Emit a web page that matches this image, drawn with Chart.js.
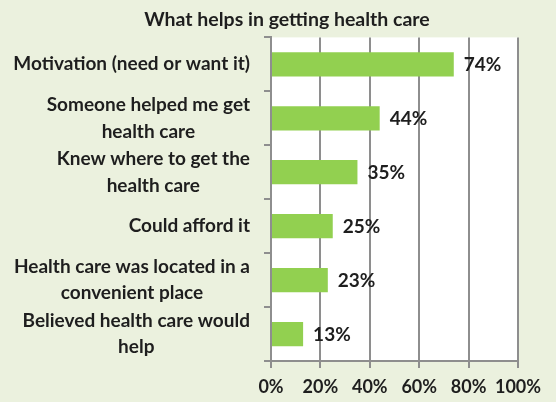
<!DOCTYPE html>
<html>
<head>
<meta charset="utf-8">
<script src="https://cdn.jsdelivr.net/npm/chart.js@4"></script>
<style>
  html, body { margin: 0; padding: 0; background: #ebf1de; }
  #wrap { width: 556px; height: 402px; }
</style>
</head>
<body>
<div id="wrap"><canvas id="chart" width="556" height="402"></canvas></div>
<script>
// Survey answers: what helps in getting health care
const categories = [
  ['Motivation (need or want it)'],
  ['Someone helped me get', 'health care'],
  ['Knew where to get the', 'health care'],
  ['Could afford it'],
  ['Health care was located in a', 'convenient place'],
  ['Believed health care would', 'help']
];
const shares = [74, 44, 35, 25, 23, 13];
const percentTicks = [0, 20, 40, 60, 80, 100];
const chartTitle = 'What helps in getting health care';

const FONT = 'Lato, "Open Sans", sans-serif';
const TEXT = '#1e1e1e';
const GRID = '#8e8e8e';

// Page background plus the white plotting area
const backdrop = {
  id: 'backdrop',
  beforeDraw(chart) {
    const { ctx, chartArea: a } = chart;
    ctx.save();
    ctx.fillStyle = '#ebf1de';
    ctx.fillRect(0, 0, chart.width, chart.height);
    ctx.fillStyle = '#ffffff';
    ctx.fillRect(a.left, a.top, a.right - a.left, a.bottom - a.top);
    ctx.restore();
  }
};

// Category names: each block right-aligned to the axis, its lines centred on each other
const categoryLabels = {
  id: 'categoryLabels',
  afterDraw(chart) {
    const { ctx } = chart;
    const y = chart.scales.y;
    const right = chart.chartArea.left - 21;
    const lineGap = 26.5;
    ctx.save();
    ctx.font = 'bold 19px ' + FONT;
    ctx.fillStyle = TEXT;
    ctx.textAlign = 'center';
    ctx.textBaseline = 'middle';
    categories.forEach((lines, i) => {
      const widest = Math.max(...lines.map(t => ctx.measureText(t).width));
      const cx = right - widest / 2;
      const cy = y.getPixelForValue(i);
      lines.forEach((t, j) => {
        ctx.fillText(t, cx, cy + (j - (lines.length - 1) / 2) * lineGap);
      });
    });
    ctx.restore();
  }
};

// Percentage written just past the end of each bar
const valueLabels = {
  id: 'valueLabels',
  afterDatasetsDraw(chart) {
    const { ctx } = chart;
    const meta = chart.getDatasetMeta(0);
    ctx.save();
    ctx.font = 'bold 19px ' + FONT;
    ctx.fillStyle = TEXT;
    ctx.textAlign = 'left';
    ctx.textBaseline = 'middle';
    meta.data.forEach((bar, i) => {
      ctx.fillText(shares[i] + '%', bar.x + 10, bar.y + 1);
    });
    ctx.restore();
  }
};

function draw() {
  new Chart(document.getElementById('chart'), {
    type: 'bar',
    data: {
      labels: categories,
      datasets: [{
        data: shares,
        backgroundColor: '#92d050',
        borderWidth: 0,
        barPercentage: 0.45,
        categoryPercentage: 1.0
      }]
    },
    options: {
      indexAxis: 'y',
      responsive: false,
      animation: false,
      devicePixelRatio: 1,
      layout: { padding: { left: 56, right: 38, top: 0, bottom: 0 } },
      plugins: {
        legend: { display: false },
        tooltip: { enabled: false },
        title: {
          display: true,
          text: chartTitle,
          color: TEXT,
          font: { family: FONT, size: 19.5, weight: 'bold', lineHeight: 1.2 },
          padding: { top: 8, bottom: 6 }
        }
      },
      scales: {
        x: {
          type: 'linear',
          position: 'bottom',
          min: 0,
          max: 100,
          afterBuildTicks(scale) {
            scale.ticks = percentTicks.map(v => ({ value: v }));
          },
          afterFit(scale) { scale.height = 41; },
          ticks: {
            color: TEXT,
            padding: 8,
            maxRotation: 0,
            minRotation: 0,
            autoSkip: false,
            font: { family: FONT, size: 18, weight: 'bold' },
            callback: v => v + '%'
          },
          grid: { color: GRID, lineWidth: 2, drawTicks: true, tickLength: 7 },
          border: { display: true, color: GRID, width: 2 }
        },
        y: {
          type: 'category',
          position: 'left',
          afterFit(scale) { scale.width = 215; },
          ticks: { display: false },
          grid: { drawOnChartArea: false, drawTicks: true, tickLength: 7, color: GRID, lineWidth: 2 },
          border: { display: true, color: GRID, width: 2 }
        }
      }
    },
    plugins: [backdrop, valueLabels, categoryLabels]
  });
}

if (document.fonts && document.fonts.load) {
  document.fonts.load('bold 19px Lato').then(draw, draw);
} else {
  draw();
}
</script>
</body>
</html>
